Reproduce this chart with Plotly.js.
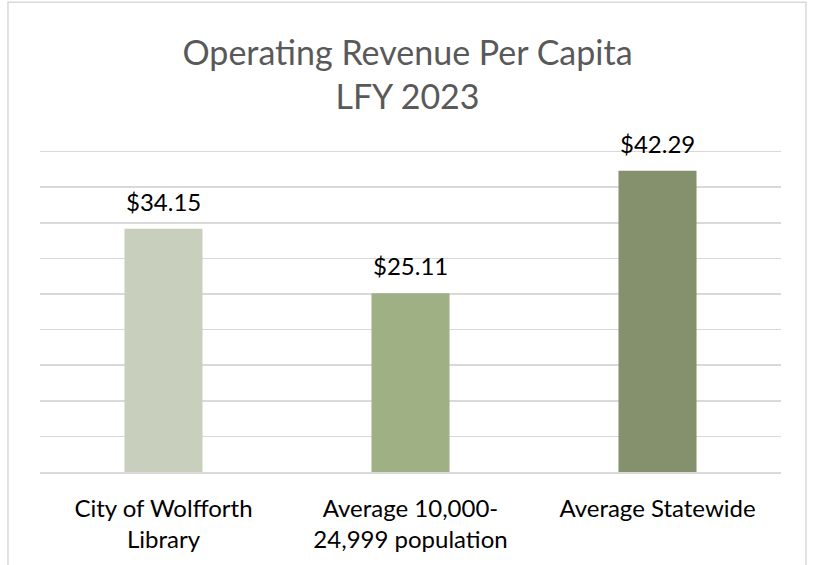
<!DOCTYPE html>
<html><head><meta charset="utf-8">
<script src="https://cdn.plot.ly/plotly-3.0.1.min.js"></script>
<style>html,body{margin:0;padding:0;background:#fff}</style>
</head><body>
<div id="chart" style="width:815px;height:565px"></div>
<script>
const categories = ["City of Wolfforth<br>Library", "Average 10,000-<br>24,999 population", "Average Statewide"];
const values = [34.15, 25.11, 42.29];
const labels = ["$34.15", "$25.11", "$42.29"];
const colors = ["#c8d0bd", "#9fb085", "#84916c"];

const font = "Lato, 'Open Sans', sans-serif";
const annotations = categories.map((c, i) => ({
  x: c, y: values[i], xref: "x", yref: "y", text: labels[i], showarrow: false,
  yanchor: "bottom", yshift: 11, font: {family: font, size: 24, color: "#000"}
}));
Plotly.newPlot("chart", [{
  type: "bar",
  x: categories,
  y: values,
  marker: {color: colors},
  width: 0.316,
  hoverinfo: "none"
}], {
  width: 815, height: 565,
  margin: {l: 40, r: 34, t: 148, b: 93},
  paper_bgcolor: "#fff", plot_bgcolor: "#fff",
  title: {text: "Operating Revenue Per Capita<br>LFY 2023", font: {family: font, size: 34, color: "#595959"}, x: 0.5, xanchor: "center", y: 0.885, yanchor: "middle"},
  xaxis: {tickfont: {family: font, size: 24, color: "#000"}, showgrid: false, showline: true, linecolor: "#d9d9d9", linewidth: 2, ticks: "", ticklabelstandoff: 14, fixedrange: true},
  yaxis: {range: [0, 45.5], tickvals: [5, 10, 15, 20, 25, 30, 35, 40, 45], showticklabels: false, gridcolor: "#d9d9d9", gridwidth: 1.5, zeroline: false, ticks: "", fixedrange: true},
  annotations: annotations,
  shapes: [{type: "rect", xref: "paper", yref: "paper", x0: -0.0432, x1: 1.0337, y0: -0.4, y1: 1.45, line: {color: "#d9d9d9", width: 1.5}, fillcolor: "rgba(0,0,0,0)", layer: "below"}],
  showlegend: false
}, {displayModeBar: false, staticPlot: true});
</script>
</body></html>
